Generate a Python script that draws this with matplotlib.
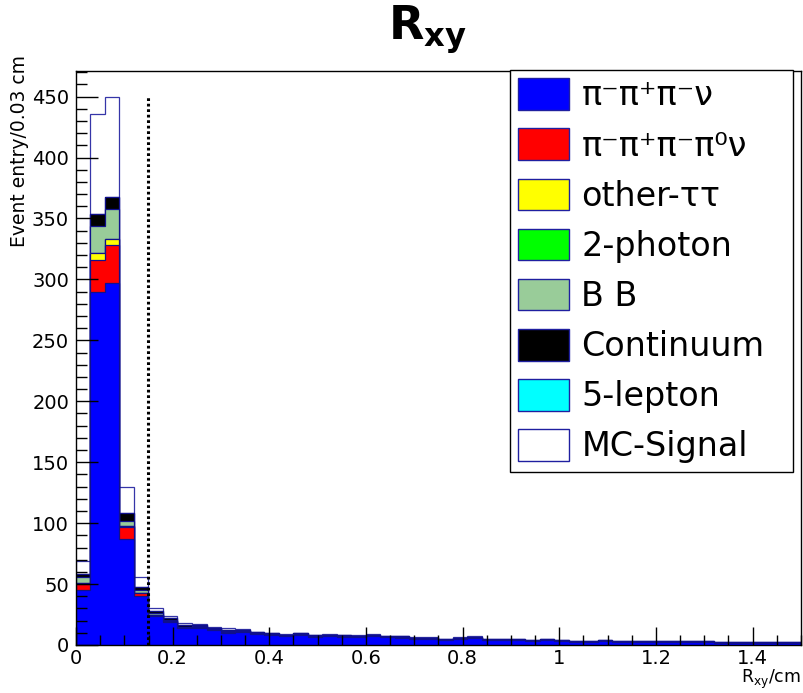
import numpy as np
import matplotlib.pyplot as plt
from matplotlib.patches import Patch
from matplotlib.ticker import MultipleLocator, FormatStrFormatter

plt.rcParams['mathtext.default'] = 'regular'
plt.rcParams['font.family'] = ['DejaVu Sans']

# binning: 50 bins of 0.03 cm from 0 to 1.5 cm
bin_width = 0.03
n_bins = 50

# stacked components (events per bin), bottom to top
pi3nu = [45, 290, 297, 87, 40, 23.5, 19, 14, 13.8, 12.4,
         10, 10.6, 8.9, 8.3, 7.3, 8.3, 6.6, 7.4, 6.6, 6.5,
         7.4, 6.2, 6.0, 5.1, 5.1, 3.9, 5.0, 5.7, 4.2, 4.2,
         4.0, 3.3, 3.9, 3.3, 2.6, 2.6, 3.3, 2.6, 2.6, 2.6,
         2.6, 2.6, 2.6, 2.6, 1.7, 1.7, 1.7, 1.7, 1.7, 1.7]
pi3pi0nu = [5, 26, 31, 9.5, 2.5, 1.2, 1, 0.6, 1, 0.5,
            1, 0.5, 0.4, 0.3, 0.3, 0.3, 0.3, 0.3, 0.3, 0.3,
            0.3, 0.3, 0.3, 0.2, 0.2, 0.2, 0.2, 0.2, 0.2, 0.2,
            0.2, 0.1, 0.2, 0.1, 0.1, 0.1, 0.1, 0.1, 0.1, 0.1,
            0.1, 0.1, 0.1, 0.1, 0.1, 0.1, 0.1, 0.1, 0.1, 0.1]
other_tautau = [1, 5.5, 5.5, 1, 0.5, 0.3, 0, 0, 0, 0,
                0, 0, 0, 0, 0, 0, 0, 0, 0, 0,
                0, 0, 0, 0, 0, 0, 0, 0, 0, 0,
                0, 0, 0, 0, 0, 0, 0, 0, 0, 0,
                0, 0, 0, 0, 0, 0, 0, 0, 0, 0]
two_photon = [0, 0, 0, 0, 0, 0, 0, 0, 0, 0,
              0, 0, 0, 0, 0, 0, 0, 0, 0, 0,
              0, 0, 0, 0, 0, 0, 0, 0, 0, 0,
              0, 0, 0, 0, 0, 0, 0, 0, 0, 0,
              0, 0, 0, 0, 0, 0, 0, 0, 0, 0]
bbbar = [5, 22.5, 24, 4.5, 2, 1, 0.8, 0.5, 0.5, 0.4,
         0.5, 0.4, 0.3, 0.3, 0.3, 0.3, 0.2, 0.2, 0.2, 0.2,
         0.2, 0.2, 0.2, 0.2, 0.2, 0.1, 0.2, 0.2, 0.1, 0.1,
         0.1, 0.1, 0.1, 0.1, 0.1, 0.1, 0.1, 0.1, 0.1, 0.1,
         0.1, 0.1, 0.1, 0.1, 0.1, 0.1, 0.1, 0.1, 0.1, 0.1]
continuum = [2, 10, 10.5, 6, 3, 2, 1.2, 1, 1, 1,
             1.2, 0.8, 0.8, 0.8, 0.7, 0.8, 0.7, 0.7, 0.7, 0.6,
             0.7, 0.6, 0.6, 0.5, 0.5, 0.5, 0.5, 0.6, 0.5, 0.5,
             0.5, 0.4, 0.5, 0.4, 0.3, 0.3, 0.4, 0.3, 0.3, 0.3,
             0.3, 0.3, 0.3, 0.3, 0.2, 0.2, 0.2, 0.2, 0.2, 0.2]
lepton5 = [0, 0, 0, 0, 0, 0, 0, 0, 0, 0,
           0, 0, 0, 0, 0, 0, 0, 0, 0, 0,
           0, 0, 0, 0, 0, 0, 0, 0, 0, 0,
           0, 0, 0, 0, 0, 0, 0, 0, 0, 0,
           0, 0, 0, 0, 0, 0, 0, 0, 0, 0]
mc_signal = [11, 82, 82, 22, 8, 2.5, 2, 1.6, 1.2, 0.7,
             0.9, 0.5, 0.5, 0.4, 0.4, 0.4, 0.4, 0.4, 0.4, 0.4,
             0.4, 0.3, 0.3, 0.3, 0.3, 0.2, 0.3, 0.3, 0.2, 0.2,
             0.2, 0.2, 0.2, 0.2, 0.2, 0.2, 0.2, 0.2, 0.2, 0.2,
             0.2, 0.2, 0.2, 0.2, 0.1, 0.1, 0.1, 0.1, 0.1, 0.1]

labels = ['π⁻π⁺π⁻ν', 'π⁻π⁺π⁻π⁰ν', 'other-ττ', '2-photon',
          'B B', 'Continuum', '5-lepton', 'MC-Signal']
colors = ['#0000ff', '#ff0000', '#ffff00', '#00ff00',
          '#99cc99', '#000000', '#00ffff', '#ffffff']
components = [pi3nu, pi3pi0nu, other_tautau, two_photon,
              bbbar, continuum, lepton5, mc_signal]

cut = 0.15
cut_top = 450

edges = np.arange(n_bins + 1) * bin_width
cums = np.cumsum(np.array(components, dtype=float), axis=0)

fig = plt.figure(figsize=(8.04, 6.93), dpi=100)
ax = fig.add_axes([76 / 804, 48 / 693, 725 / 804, 574 / 693])

line_col = '#10108c'
# ROOT-style stack: draw cumulative histograms from the top down
for k in range(len(components) - 1, -1, -1):
    ec = '#3535a8' if k == len(components) - 1 else line_col
    ax.stairs(cums[k], edges, baseline=0, fill=True,
              facecolor=colors[k], edgecolor='none')
    ax.stairs(cums[k], edges, baseline=0, fill=False,
              color=ec, linewidth=0.9)

ax.plot([cut, cut], [0, cut_top], color='black', linewidth=2.2,
        dashes=[0.9, 0.9])

ax.set_xlim(0, 1.5)
ax.set_ylim(0, 471)
ax.set_axisbelow(False)
ax.xaxis.set_major_locator(MultipleLocator(0.2))
ax.xaxis.set_minor_locator(MultipleLocator(0.05))
ax.yaxis.set_major_locator(MultipleLocator(50))
ax.yaxis.set_minor_locator(MultipleLocator(10))
ax.xaxis.set_major_formatter(FormatStrFormatter('%g'))
ax.tick_params(axis='x', which='major', direction='in', length=13, width=1,
               labelsize=14, pad=3)
ax.tick_params(axis='x', which='minor', direction='in', length=7, width=1)
ax.tick_params(axis='y', which='major', direction='in', length=15.5, width=1,
               labelsize=14, pad=5)
ax.tick_params(axis='y', which='minor', direction='in', length=7.7, width=1)
for s in ax.spines.values():
    s.set_linewidth(1)

fig.text(427 / 804, 1 - 40 / 693, r'R$_{\mathbf{xy}}$', fontsize=33,
         fontweight='bold', ha='center', va='baseline')
fig.text(801 / 804, 1 - 683 / 693, r'R$_{xy}$/cm', fontsize=12.5,
         ha='right', va='baseline')
fig.text(20 / 804, 1 - 55 / 693, 'Event entry/0.03 cm', fontsize=13.5,
         rotation=90, ha='center', va='top')

handles = [Patch(facecolor=c, edgecolor='#1f1fa0', linewidth=1) for c in colors]
leg = ax.legend(handles, labels, loc='upper left', mode='expand',
                bbox_to_anchor=(510 / 804, 1 - 471 / 693, 283 / 804, 401 / 693),
                bbox_transform=fig.transFigure, borderaxespad=0,
                fontsize=24, handlelength=1.53, handleheight=1.08,
                labelspacing=0.48, handletextpad=0.36, borderpad=0.25,
                fancybox=False, framealpha=1, edgecolor='black')
leg.get_frame().set_linewidth(1)

fig.savefig('out.png', dpi=100)
